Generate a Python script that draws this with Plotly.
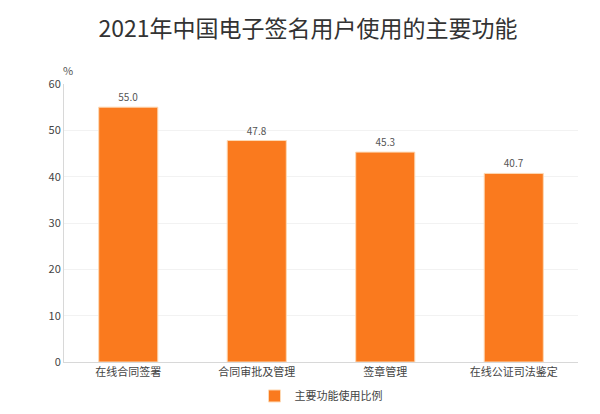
import plotly.graph_objects as go

categories = ["在线合同签署", "合同审批及管理", "签章管理", "在线公证司法鉴定"]
values = [55.0, 47.8, 45.3, 40.7]
series_name = "主要功能使用比例"

font = "Noto Sans CJK SC"

fig = go.Figure(go.Bar(
    x=categories, y=values, name=series_name,
    marker=dict(color="#FA7A1E", line=dict(color="#FDD9B5", width=1)),
    text=[f"{v:.1f}" for v in values], textposition="outside",
    textfont=dict(size=10, color="#555"), cliponaxis=False,
))

fig.update_layout(
    width=600, height=414,
    paper_bgcolor="white", plot_bgcolor="white",
    font=dict(family=font, color="#333"),
    title=dict(text="2021年中国电子签名用户使用的主要功能", x=0.5, xanchor="center",
               y=0.97, yanchor="top", font=dict(size=23, color="#333", family=font)),
    margin=dict(l=56, r=30, t=76, b=40),
    bargap=0.54,
    showlegend=True,
    legend=dict(orientation="h", x=0.5, xanchor="center", y=-0.07, yanchor="top",
                font=dict(size=11, color="#444")),
    annotations=[dict(text="%", xref="paper", yref="paper", x=0, y=1.0,
                      xanchor="left", yanchor="bottom", showarrow=False,
                      xshift=-3, yshift=4, font=dict(size=11, color="#555"))],
)
fig.update_yaxes(range=[0, 60], dtick=10, showgrid=True, gridcolor="#F2F2F2",
                 showline=True, linecolor="#D8D8D8", zeroline=False,
                 tickfont=dict(size=11, color="#444"))
fig.update_xaxes(showline=True, linecolor="#D8D8D8", tickfont=dict(size=11, color="#444"))

fig.write_html("out.html")
